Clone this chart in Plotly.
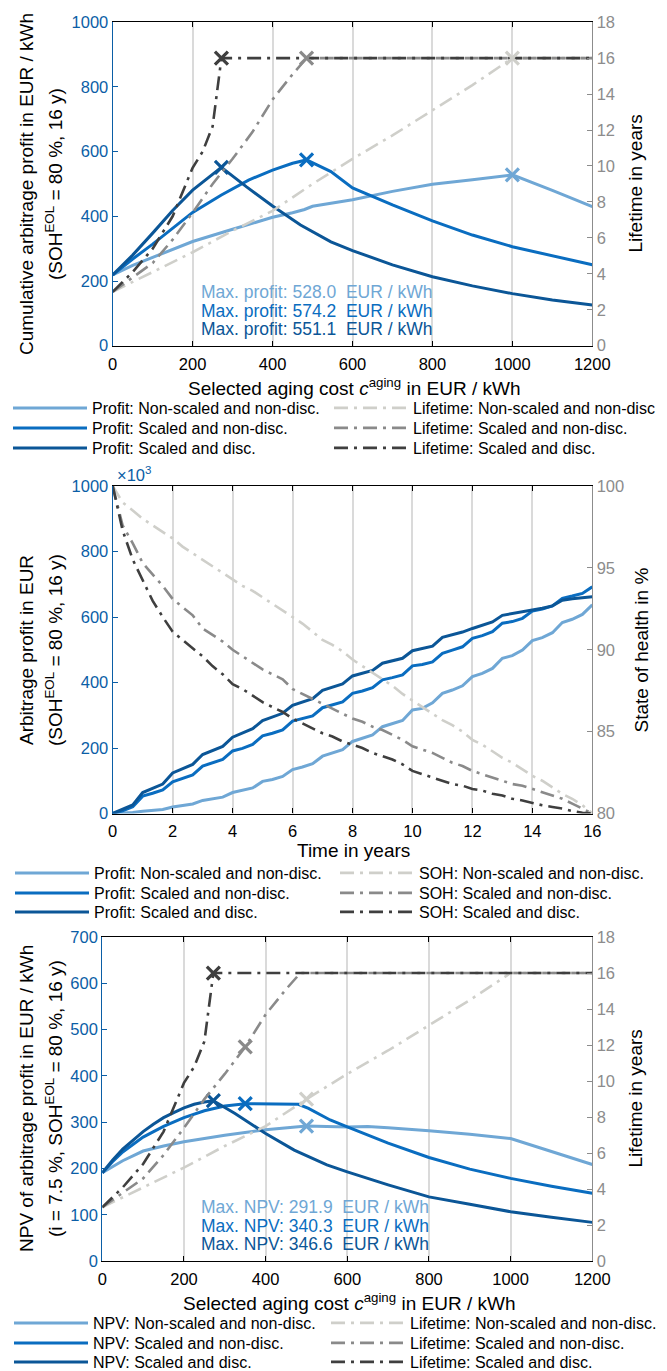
import plotly.graph_objects as go
import numpy as np

W, H = 667, 1371
FONT = "Liberation Sans, Arial, Helvetica, sans-serif"

# ---------------- colours / styles ----------------
C_LIGHT = "#6fa7d5"
C_MID = "#0a6dc0"
C_DARK = "#0b5697"
G_LIGHT = "#cfcfca"
G_MID = "#8a8a8a"
G_DARK = "#3f3f3f"
AX_BLUE = "#0b5ea6"
AX_GRAY = "#8c8c8c"
GRID = "#dadada"
DASH = "14px,6px,3px,6px"

# ---------------- Panel 1: cumulative profit vs aging cost ----------------
cost_light = [0, 50, 100, 200, 300, 400, 450, 480, 500, 550, 600, 700, 800, 900, 1000, 1100, 1200]
profit_light = [219, 248, 273, 322, 360, 397, 411, 421, 431, 440, 451, 477, 499, 513, 528.0, 480, 430]

cost_mid = [0, 50, 100, 150, 200, 272, 340, 400, 450, 485, 546, 600, 700, 800, 900, 1000, 1100, 1200]
profit_mid = [219, 268, 314, 364, 412, 466, 512, 543, 564, 574.2, 538, 488, 435, 386, 342, 306, 277, 250]

cost_dark = [0, 50, 100, 150, 200, 272, 335, 400, 470, 546, 600, 700, 800, 900, 1000, 1100, 1200]
profit_dark = [219, 280, 348, 418, 481, 551.1, 491, 432, 373, 321, 294, 250, 213, 185, 161, 141, 126]

# lifetime (years) vs aging cost -- shared by panel 1 and panel 3
life_cost_light = [0, 100, 200, 300, 400, 500, 600, 700, 800, 900, 1000, 1100, 1200]
life_light = [3.0, 4.1, 5.2, 6.4, 7.5, 9.0, 10.4, 11.7, 13.1, 14.5, 16.0, 16.0, 16.0]
life_cost_mid = [0, 50, 100, 150, 200, 250, 300, 350, 400, 450, 485, 600, 800, 1000, 1200]
life_mid = [3.0, 3.8, 4.6, 5.9, 7.4, 9.0, 10.4, 11.9, 13.7, 15.1, 16.0, 16.0, 16.0, 16.0, 16.0]
life_cost_dark = [0, 50, 100, 150, 200, 225, 250, 272, 400, 600, 800, 1000, 1200]
life_dark = [3.0, 4.1, 5.4, 7.2, 9.9, 10.8, 12.2, 16.0, 16.0, 16.0, 16.0, 16.0, 16.0]

# ---------------- Panel 2: profit & SOH over time ----------------
years = [0, 0.33, 0.67, 1, 1.33, 1.67, 2, 2.33, 2.67, 3, 3.33, 3.67, 4, 4.33, 4.67, 5,
         5.33, 5.67, 6, 6.33, 6.67, 7, 7.33, 7.67, 8, 8.33, 8.67, 9, 9.33, 9.67, 10,
         10.33, 10.67, 11, 11.33, 11.67, 12, 12.33, 12.67, 13, 13.33, 13.67, 14, 14.33,
         14.67, 15, 15.33, 15.67, 16]
# arbitrage profit in thousand EUR
prof_t_light = [0, 1, 3, 7, 9, 12, 20, 24, 29, 40, 44, 50, 64, 70, 78, 98,
                104, 113, 134, 142, 152, 175, 185, 195, 220, 229, 240, 265, 274, 284, 316,
                321, 338, 367, 377, 390, 418, 428, 443, 474, 482, 499, 528, 537,
                552, 583, 593, 608, 637]
prof_t_mid = [0, 8, 21, 53, 62, 72, 97, 107, 118, 145, 155, 165, 191, 199, 211, 237,
              245, 255, 282, 289, 298, 323, 331, 341, 367, 374, 384, 408, 415, 423, 451,
              455, 463, 489, 499, 509, 535, 543, 555, 581, 586, 596, 618, 624,
              634, 657, 664, 672, 692]
prof_t_dark = [0, 12, 26, 64, 76, 90, 124, 137, 150, 180, 193, 205, 233, 246, 259, 284,
               295, 306, 330, 340, 351, 376, 386, 396, 420, 428, 437, 459, 466, 474, 497,
               504, 511, 538, 546, 554, 565, 575, 585, 605, 610, 615, 620, 627,
               634, 651, 656, 660, 662]
# state of health in %
soh_light = [100, 99.0, 98.5, 98.0, 97.6, 97.2, 96.8, 96.3, 95.9, 95.5, 95.1, 94.7, 94.3, 93.9,
             93.6, 93.2, 92.8, 92.4, 92.0, 91.6, 91.1, 90.6, 90.3, 89.9, 89.4, 89.0, 88.6, 88.2,
             87.8, 87.3, 86.9, 86.5, 86.1, 85.7, 85.4, 85.0, 84.5, 84.2, 83.8, 83.4, 83.1, 82.7,
             82.3, 82.0, 81.6, 81.2, 80.9, 80.5, 80.0]
soh_mid = [100, 97.6, 96.5, 95.3, 94.6, 93.9, 93.1, 92.6, 92.1, 91.3, 90.9, 90.5, 90.0, 89.6,
           89.2, 88.8, 88.5, 88.2, 87.6, 87.3, 87.0, 86.7, 86.4, 86.1, 85.8, 85.6, 85.3, 85.1,
           84.8, 84.5, 84.1, 83.9, 83.7, 83.4, 83.1, 82.9, 82.6, 82.4, 82.2, 82.0, 81.8, 81.7,
           81.5, 81.3, 81.1, 80.9, 80.6, 80.3, 80.0]
soh_dark = [100, 97.3, 95.5, 94.2, 93.0, 92.0, 91.1, 90.6, 90.1, 89.6, 89.0, 88.5, 87.9, 87.6,
            87.2, 86.8, 86.5, 86.2, 85.8, 85.5, 85.2, 84.9, 84.7, 84.4, 84.2, 84.0, 83.7, 83.5,
            83.3, 83.0, 82.6, 82.4, 82.2, 82.0, 81.8, 81.7, 81.5, 81.4, 81.2, 81.1, 80.9, 80.8,
            80.65, 80.5, 80.4, 80.3, 80.15, 80.05, 80.0]

# ---------------- Panel 3: NPV vs aging cost ----------------
npv_cost_light = [0, 50, 100, 150, 200, 300, 400, 500, 600, 650, 700, 800, 900, 1000, 1100, 1200]
npv_light = [191, 217, 238, 249, 258, 272, 284, 291.9, 290, 291, 288, 282, 274, 265, 237, 209]
npv_cost_mid = [0, 25, 50, 75, 100, 150, 200, 250, 300, 350, 400, 480, 505, 558, 600, 700, 800,
                900, 1000, 1100, 1200]
npv_mid = [191, 215, 236, 253, 268, 291, 310, 325, 335, 340.3, 340.0, 339, 330, 305, 290, 255, 224,
           199, 179, 162, 147]
npv_cost_dark = [0, 25, 50, 75, 100, 125, 150, 175, 200, 225, 250, 272, 325, 400, 470, 550, 600,
                 700, 800, 900, 1000, 1100, 1200]
npv_dark = [191, 218, 242, 262, 280, 296, 310, 321, 331, 339, 344, 346.6, 319, 276, 240, 208, 193,
            165, 139, 123, 107, 95, 84]

# ---------------- legend labels ----------------
leg1_left = ["Profit: Non-scaled and non-disc.", "Profit: Scaled and non-disc.", "Profit: Scaled and disc."]
leg1_right = ["Lifetime: Non-scaled and non-disc", "Lifetime: Scaled and non-disc.", "Lifetime: Scaled and disc."]
leg2_left = ["Profit: Non-scaled and non-disc.", "Profit: Scaled and non-disc.", "Profit: Scaled and disc."]
leg2_right = ["SOH: Non-scaled and non-disc.", "SOH: Scaled and non-disc.", "SOH: Scaled and disc."]
leg3_left = ["NPV: Non-scaled and non-disc.", "NPV: Scaled and non-disc.", "NPV: Scaled and disc."]
leg3_right = ["Lifetime: Non-scaled and non-disc.", "Lifetime: Scaled and non-disc.", "Lifetime: Scaled and disc."]

BLUES = [C_LIGHT, C_MID, C_DARK]
GRAYS = [G_LIGHT, G_MID, G_DARK]

fig = go.Figure()
legend_layouts = {}
leg_counter = [0]


def new_legend(x_px, y_px):
    leg_counter[0] += 1
    name = "legend" if leg_counter[0] == 1 else f"legend{leg_counter[0]}"
    legend_layouts[name] = dict(
        x=x_px / W, y=1 - y_px / H, xref="paper", yref="paper",
        xanchor="left", yanchor="middle", bgcolor="rgba(0,0,0,0)", borderwidth=0,
        font=dict(size=16, color="black", family=FONT), itemwidth=74,
        orientation="v", itemclick=False, itemdoubleclick=False,
    )
    return name


def add_line(x, y, xa, ya, color, name, legend, dash="solid", width=3.0):
    fig.add_trace(go.Scatter(
        x=x, y=y, xaxis=xa, yaxis=ya, mode="lines", name=name, legend=legend,
        line=dict(color=color, width=width, dash=dash), showlegend=True, hoverinfo="skip"))


def add_marker(x, y, xa, ya, color):
    fig.add_trace(go.Scatter(
        x=[x], y=[y], xaxis=xa, yaxis=ya, mode="markers", showlegend=False, hoverinfo="skip",
        marker=dict(symbol="x-thin", size=13, line=dict(color=color, width=3.2), color=color)))


# ---- Panel 1 ----
p1_rows = [408, 428, 448]
p1_profit = [(cost_light, profit_light), (cost_mid, profit_mid), (cost_dark, profit_dark)]
p1_life = [(life_cost_light, life_light), (life_cost_mid, life_mid), (life_cost_dark, life_dark)]
for i, (cx, py) in enumerate(p1_profit):
    add_line(cx, py, "x", "y", BLUES[i], leg1_left[i], new_legend(8, p1_rows[i]))
for i, (cx, ly) in enumerate(p1_life):
    add_line(cx, ly, "x", "y2", GRAYS[i], leg1_right[i], new_legend(329, p1_rows[i]), dash=DASH, width=2.6)
for i in range(3):
    cx, py = p1_profit[i]
    k = int(np.argmax(py))
    add_marker(cx[k], py[k], "x", "y", BLUES[i])
    lx, ly = p1_life[i]
    add_marker(cx[k], float(np.interp(cx[k], lx, ly)), "x", "y2", GRAYS[i])

# ---- Panel 2 ----
p2_rows = [873, 893, 912]
for i, py in enumerate([prof_t_light, prof_t_mid, prof_t_dark]):
    add_line(years, py, "x2", "y3", BLUES[i], leg2_left[i], new_legend(10, p2_rows[i]))
for i, sy in enumerate([soh_light, soh_mid, soh_dark]):
    add_line(years, sy, "x2", "y4", GRAYS[i], leg2_right[i], new_legend(335, p2_rows[i]), dash=DASH, width=2.6)

# ---- Panel 3 ----
p3_rows = [1323, 1343, 1362]
p3_npv = [(npv_cost_light, npv_light), (npv_cost_mid, npv_mid), (npv_cost_dark, npv_dark)]
for i, (cx, ny) in enumerate(p3_npv):
    add_line(cx, ny, "x3", "y5", BLUES[i], leg3_left[i], new_legend(9, p3_rows[i]))
for i, (cx, ly) in enumerate(p1_life):
    add_line(cx, ly, "x3", "y6", GRAYS[i], leg3_right[i], new_legend(326, p3_rows[i]), dash=DASH, width=2.6)
for i in range(3):
    cx, ny = p3_npv[i]
    k = int(np.argmax(ny))
    add_marker(cx[k], ny[k], "x3", "y5", BLUES[i])
    lx, ly = p1_life[i]
    add_marker(cx[k], float(np.interp(cx[k], lx, ly)), "x3", "y6", GRAYS[i])

# ---------------- axes ----------------
def px_x(a, b):
    return [a / W, b / W]


def px_y(top, bottom):
    return [1 - bottom / H, 1 - top / H]


TICKFONT = 16.5
xcommon = dict(showline=True, linecolor="black", linewidth=1.2, mirror="ticks", ticks="inside",
               ticklen=5, tickcolor="black", tickwidth=1, showgrid=True, gridcolor=GRID, gridwidth=1.5,
               zeroline=False, tickfont=dict(size=TICKFONT, color="black", family=FONT), automargin=False,
               ticklabelstandoff=3)
yleft = dict(showline=True, linecolor=AX_BLUE, linewidth=1.2, ticks="inside", ticklen=5,
             tickcolor=AX_BLUE, showgrid=False, zeroline=False,
             tickfont=dict(size=TICKFONT, color=AX_BLUE, family=FONT), automargin=False)
yright = dict(showline=True, linecolor=AX_GRAY, linewidth=1.2, ticks="inside", ticklen=5,
              tickcolor=AX_GRAY, showgrid=False, zeroline=False, side="right",
              tickfont=dict(size=TICKFONT, color=AX_GRAY, family=FONT), automargin=False)

fig.update_layout(
    xaxis=dict(xcommon, domain=px_x(112.7, 592.3), anchor="y", range=[0, 1200], tickvals=list(range(0, 1201, 200))),
    yaxis=dict(yleft, domain=px_y(22.2, 345.7), anchor="x", range=[0, 1000], tickvals=list(range(0, 1001, 200))),
    yaxis2=dict(yright, overlaying="y", anchor="x", range=[0, 18], tickvals=list(range(0, 19, 2))),
    xaxis2=dict(xcommon, domain=px_x(112.7, 592.3), anchor="y3", range=[0, 16], tickvals=list(range(0, 17, 2))),
    yaxis3=dict(yleft, domain=px_y(486.0, 813.5), anchor="x2", range=[0, 1000], tickvals=list(range(0, 1001, 200))),
    yaxis4=dict(yright, overlaying="y3", anchor="x2", range=[80, 100], tickvals=[80, 85, 90, 95, 100]),
    xaxis3=dict(xcommon, domain=px_x(102.3, 592.3), anchor="y5", range=[0, 1200], tickvals=list(range(0, 1201, 200))),
    yaxis5=dict(yleft, domain=px_y(937.0, 1261.3), anchor="x3", range=[0, 700], tickvals=list(range(0, 701, 100))),
    yaxis6=dict(yright, overlaying="y5", anchor="x3", range=[0, 18], tickvals=list(range(0, 19, 2))),
)

# ---------------- text annotations ----------------
ann = []


def text(x_px, y_px, s, size=19, color="black", angle=0, xanchor="center", yanchor="middle"):
    ann.append(dict(x=x_px / W, y=1 - y_px / H, xref="paper", yref="paper", text=s, showarrow=False,
                    textangle=angle, xanchor=xanchor, yanchor=yanchor,
                    font=dict(size=size, color=color, family=FONT)))


SOH_EOL = "(SOH<sup>EOL</sup> = 80 %, 16 y)"
XLAB = "Selected aging cost <i>c</i><sup>aging</sup> in EUR / kWh"
# panel 1
text(26, 184, "Cumulative arbitrage profit in EUR / kWh", angle=-90)
text(54, 184, SOH_EOL, angle=-90)
text(634.5, 184, "Lifetime in years", angle=-90)
text(354, 387, XLAB)
# panel 2
text(26, 650, "Arbitrage profit in EUR", angle=-90)
text(54, 650, SOH_EOL, angle=-90)
text(640.5, 650, "State of health in %", angle=-90)
text(353, 850, "Time in years")
text(115, 486, "\u00d710<sup>3</sup>", size=16.5, color=AX_BLUE, xanchor="left", yanchor="bottom")
# panel 3
text(26, 1099, "NPV of arbitrage profit in EUR / kWh", angle=-90)
text(54, 1099, "(i = 7.5 %, SOH<sup>EOL</sup> = 80 %, 16 y)", angle=-90)
text(634.5, 1099, "Lifetime in years", angle=-90)
text(349, 1302, XLAB)

for i, (row, (_, py)) in enumerate(zip([292, 311, 329], p1_profit)):
    text(199, row, f"Max. profit: {max(py):.1f}\u00a0 EUR / kWh", size=17.5, color=BLUES[i], xanchor="left")
for i, (row, (_, ny)) in enumerate(zip([1207, 1226, 1244], p3_npv)):
    text(199, row, f"Max. NPV: {max(ny):.1f}\u00a0 EUR / kWh", size=17.5, color=BLUES[i], xanchor="left")

fig.update_layout(
    width=W, height=H, template="none",
    margin=dict(l=0, r=0, t=0, b=0, pad=0, autoexpand=False),
    paper_bgcolor="white", plot_bgcolor="white",
    font=dict(family=FONT, size=16, color="black"),
    annotations=ann, showlegend=True,
    **legend_layouts,
)

fig.write_html("out.html")
